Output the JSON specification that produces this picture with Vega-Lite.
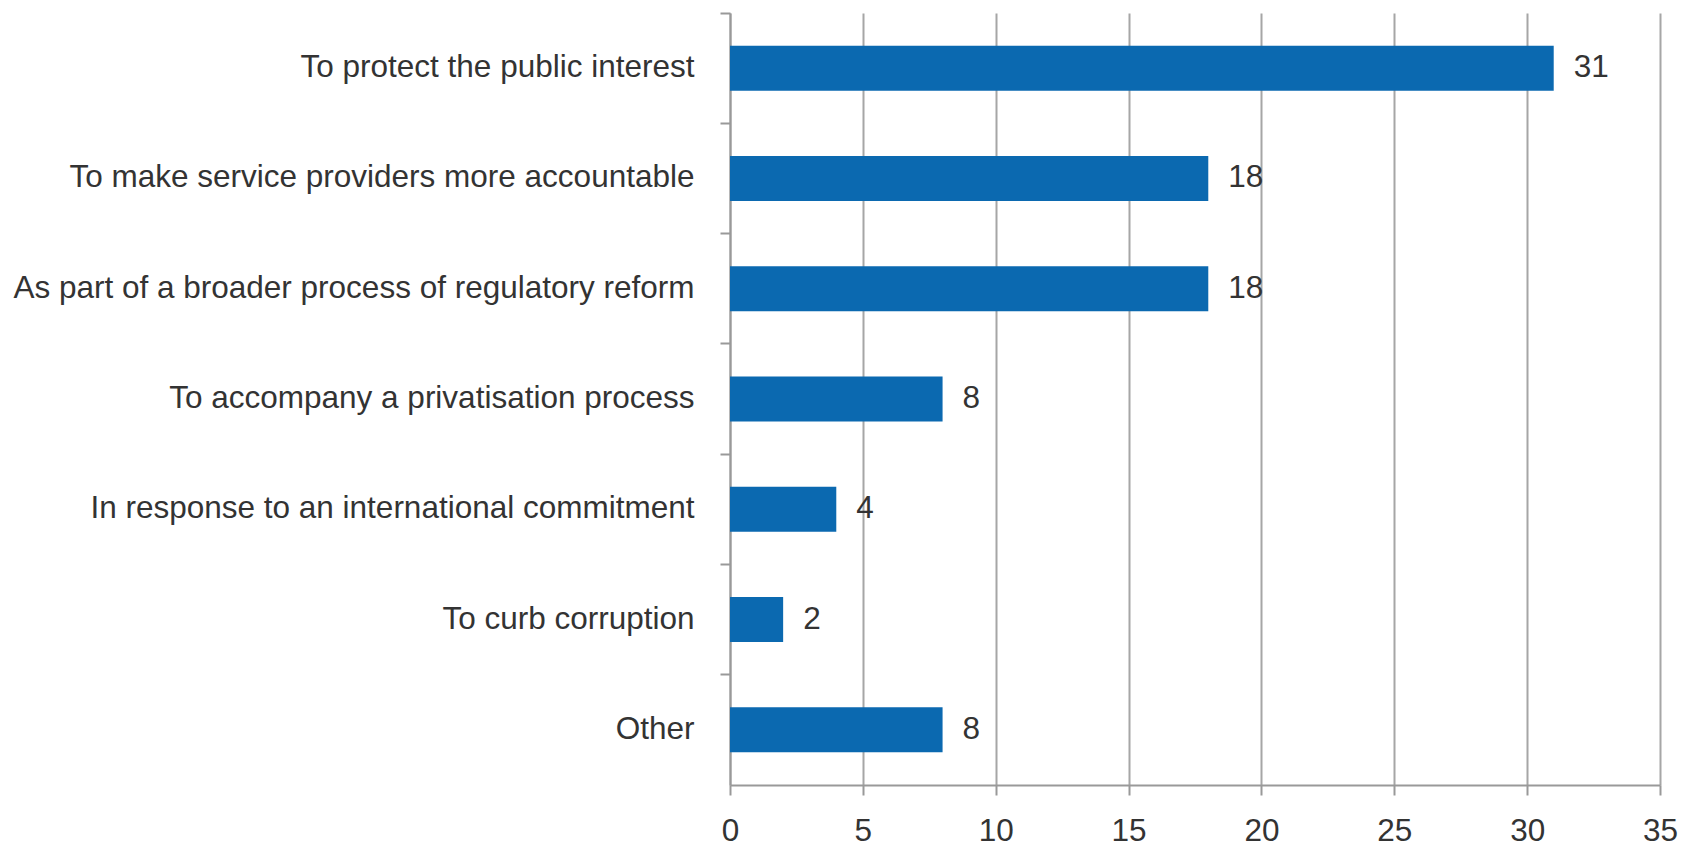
{
  "$schema": "https://vega.github.io/schema/vega-lite/v6.json",
  "autosize": {"type": "none"},
  "width": 930,
  "height": 772,
  "padding": {"left": 730, "top": 13, "right": 30, "bottom": 63},
  "background": "white",
  "data": {
    "values": [
      {"reason": "To protect the public interest", "count": 31},
      {"reason": "To make service providers more accountable", "count": 18},
      {"reason": "As part of a broader process of regulatory reform", "count": 18},
      {"reason": "To accompany a privatisation process", "count": 8},
      {"reason": "In response to an international commitment", "count": 4},
      {"reason": "To curb corruption", "count": 2},
      {"reason": "Other", "count": 8}
    ]
  },
  "encoding": {
    "y": {
      "field": "reason",
      "type": "nominal",
      "sort": null,
      "title": null,
      "scale": {"paddingInner": 0, "paddingOuter": 0},
      "axis": {
        "bandPosition": 0,
        "labelOffset": 0,
        "labelFont": "Liberation Sans",
        "labelFontSize": 31.5,
        "labelColor": "#333333",
        "labelPadding": 26,
        "labelLimit": 800,
        "tickSize": 10,
        "tickColor": "#999999",
        "tickWidth": 2,
        "domainColor": "#999999",
        "domainWidth": 2,
        "grid": false
      }
    },
    "x": {
      "field": "count",
      "type": "quantitative",
      "title": null,
      "scale": {"domain": [0, 35], "nice": false},
      "axis": {
        "values": [0, 5, 10, 15, 20, 25, 30, 35],
        "labelFont": "Liberation Sans",
        "labelFontSize": 31.5,
        "labelColor": "#333333",
        "labelPadding": 20,
        "labelFlush": false,
        "tickSize": 10,
        "tickColor": "#999999",
        "tickWidth": 2,
        "domainColor": "#999999",
        "domainWidth": 2,
        "grid": true,
        "gridColor": "#a6a6a6",
        "gridWidth": 2
      }
    }
  },
  "layer": [
    {"mark": {"type": "bar", "color": "#0b69b0", "size": 45}},
    {
      "mark": {"type": "text", "align": "left", "baseline": "middle", "dx": 20, "font": "Liberation Sans", "fontSize": 31.5, "color": "#333333"},
      "encoding": {"text": {"field": "count", "type": "quantitative"}}
    }
  ],
  "config": {"view": {"stroke": null}}
}
